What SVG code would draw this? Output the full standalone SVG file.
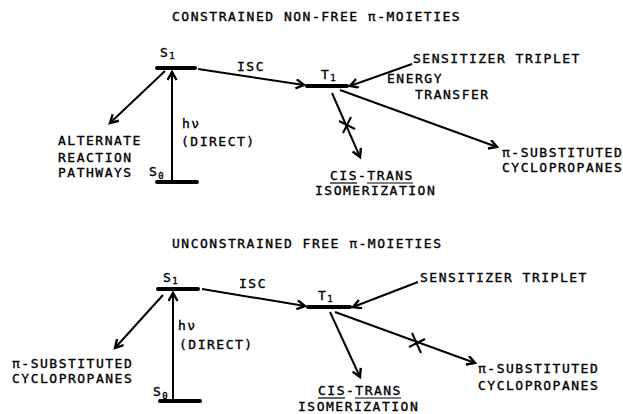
<svg xmlns="http://www.w3.org/2000/svg" width="623" height="414" viewBox="0 0 623 414">
<defs>
<marker id="ah" markerWidth="12" markerHeight="12" refX="9" refY="5" orient="auto" markerUnits="userSpaceOnUse">
<path d="M1,0.5 L9,5 L1,9.5" fill="none" stroke="#000" stroke-width="2.4"/>
</marker>
</defs>
<style>
text{font-family:"DejaVu Sans Mono","Liberation Mono",monospace;font-size:13px;letter-spacing:1.5px;fill:#000;stroke:#000;stroke-width:0.35}
.sub{font-size:9px;letter-spacing:0}
.bar{stroke:#000;stroke-width:4;stroke-linecap:round}
.arr{stroke:#000;stroke-width:2;fill:none;marker-end:url(#ah)}
.x{stroke:#000;stroke-width:2}
.ul{stroke:#000;stroke-width:1.2}
</style>
<rect width="623" height="414" fill="#fff"/>
<text x="172" y="21">CONSTRAINED NON-FREE π-MOIETIES</text>
<text x="172" y="248">UNCONSTRAINED FREE π-MOIETIES</text>
<g id="connectors">
<line class="arr" x1="172" y1="180" x2="172" y2="72"/>
<line class="arr" x1="165" y1="71" x2="110" y2="123"/>
<line class="arr" x1="198" y1="69" x2="304" y2="85"/>
<line class="arr" x1="412" y1="64" x2="350" y2="86"/>
<line class="arr" x1="340" y1="90" x2="497" y2="147"/>
<line class="arr" x1="332" y1="93" x2="360" y2="157"/>
<line class="x" x1="339" y1="121" x2="355" y2="129"/>
<line class="x" x1="343" y1="133" x2="351" y2="117"/>
<line class="arr" x1="173" y1="400" x2="173" y2="293"/>
<line class="arr" x1="163" y1="295" x2="115" y2="348"/>
<line class="arr" x1="202" y1="289" x2="305" y2="306"/>
<line class="arr" x1="418" y1="282" x2="353" y2="307"/>
<line class="arr" x1="330" y1="312" x2="360" y2="377"/>
<line class="arr" x1="335" y1="312" x2="475" y2="363"/>
<line class="x" x1="412" y1="333" x2="421" y2="353"/>
<line class="x" x1="409" y1="347" x2="425" y2="339"/>
</g>
<g id="S1-top"><line class="bar" x1="157" y1="68" x2="195" y2="68"/><text x="160" y="57">S<tspan class="sub" dy="2">1</tspan></text></g>
<g id="S0-top"><line class="bar" x1="157" y1="182" x2="197" y2="182"/><text x="149" y="176">S<tspan class="sub" dy="3">0</tspan></text></g>
<g id="T1-top"><line class="bar" x1="307" y1="86" x2="347" y2="86"/><text x="321" y="79">T<tspan class="sub" dy="2">1</tspan></text></g>
<g id="hv-top"><text x="182" y="128">hν</text><text x="181" y="146">(DIRECT)</text></g>
<g id="isc-top"><text x="237" y="71">ISC</text></g>
<g id="alt"><text x="58" y="145">ALTERNATE</text><text x="58" y="162">REACTION</text><text x="58" y="177">PATHWAYS</text></g>
<g id="sens-top"><text x="413" y="63">SENSITIZER TRIPLET</text><text x="387" y="83">ENERGY</text><text x="415" y="99">TRANSFER</text></g>
<g id="cp-top"><text x="502" y="157">π-SUBSTITUTED</text><text x="502" y="172">CYCLOPROPANES</text></g>
<g id="ct-top"><text x="330" y="180">CIS-TRANS</text><line class="ul" x1="330" y1="183" x2="357" y2="183"/><line class="ul" x1="367" y1="183" x2="413" y2="183"/><text x="315" y="195">ISOMERIZATION</text></g>
<g id="S1-bot"><line class="bar" x1="158" y1="289" x2="198" y2="289"/><text x="163" y="282">S<tspan class="sub" dy="2">1</tspan></text></g>
<g id="S0-bot"><line class="bar" x1="160" y1="401" x2="200" y2="401"/><text x="153" y="396">S<tspan class="sub" dy="3">0</tspan></text></g>
<g id="T1-bot"><line class="bar" x1="308" y1="307" x2="350" y2="307"/><text x="318" y="300">T<tspan class="sub" dy="2">1</tspan></text></g>
<g id="hv-bot"><text x="178" y="330">hν</text><text x="179" y="349">(DIRECT)</text></g>
<g id="isc-bot"><text x="239" y="288">ISC</text></g>
<g id="cp-left"><text x="12" y="368">π-SUBSTITUTED</text><text x="12" y="383">CYCLOPROPANES</text></g>
<g id="sens-bot"><text x="420" y="282">SENSITIZER TRIPLET</text></g>
<g id="cp-bot"><text x="478" y="373">π-SUBSTITUTED</text><text x="478" y="390">CYCLOPROPANES</text></g>
<g id="ct-bot"><text x="318" y="395">CIS-TRANS</text><line class="ul" x1="318" y1="398" x2="345" y2="398"/><line class="ul" x1="355" y1="398" x2="401" y2="398"/><text x="298" y="411">ISOMERIZATION</text></g>
</svg>
